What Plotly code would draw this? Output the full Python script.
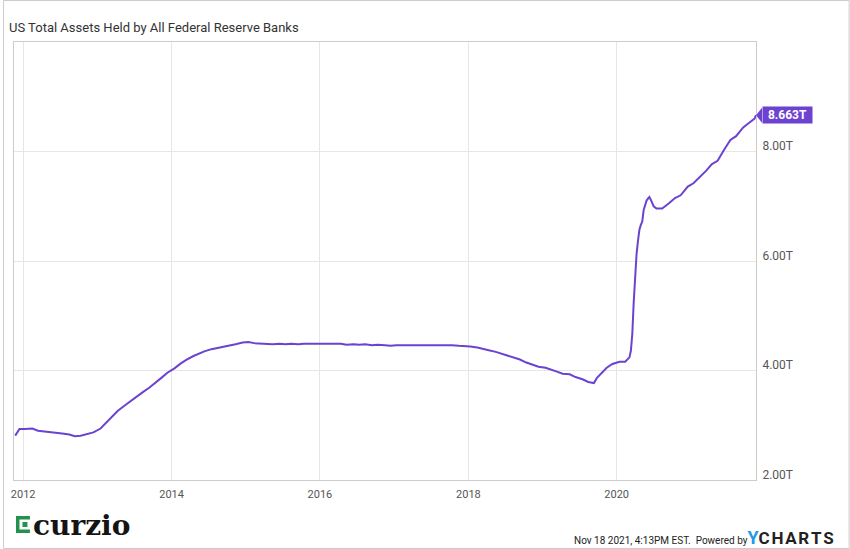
import plotly.graph_objects as go

# ---------------- data ----------------
dates = [
    "2011-11-23", "2011-12-14", "2012-01-11", "2012-02-15", "2012-03-14", "2012-04-11",
    "2012-05-16", "2012-06-13", "2012-07-11", "2012-08-15", "2012-09-12", "2012-10-10",
    "2012-11-14", "2012-12-12", "2013-01-16", "2013-02-13", "2013-03-13", "2013-04-10",
    "2013-05-15", "2013-06-12", "2013-07-17", "2013-08-14", "2013-09-11", "2013-10-16",
    "2013-11-13", "2013-12-11", "2014-01-15", "2014-02-12", "2014-03-12", "2014-04-16",
    "2014-05-14", "2014-06-11", "2014-07-16", "2014-08-13", "2014-09-17", "2014-10-15",
    "2014-11-12", "2014-12-17", "2015-01-14", "2015-02-11", "2015-03-11", "2015-04-15",
    "2015-05-13", "2015-06-17", "2015-07-15", "2015-08-12", "2015-09-16", "2015-10-14",
    "2015-11-11", "2015-12-16", "2016-01-13", "2016-02-10", "2016-03-16", "2016-04-13",
    "2016-05-11", "2016-06-15", "2016-07-13", "2016-08-10", "2016-09-14", "2016-10-12",
    "2016-11-16", "2016-12-14", "2017-01-11", "2017-02-15", "2017-03-15", "2017-04-12",
    "2017-05-17", "2017-06-14", "2017-07-12", "2017-08-16", "2017-09-13", "2017-10-11",
    "2017-11-15", "2017-12-13", "2018-01-10", "2018-02-14", "2018-03-14", "2018-04-11",
    "2018-05-16", "2018-06-13", "2018-07-11", "2018-08-15", "2018-09-12", "2018-10-10",
    "2018-11-14", "2018-12-12", "2019-01-16", "2019-02-13", "2019-03-13", "2019-04-10",
    "2019-05-15", "2019-06-12", "2019-07-17", "2019-08-14", "2019-09-11", "2019-09-25",
    "2019-10-16", "2019-11-13", "2019-12-11", "2020-01-15", "2020-02-12", "2020-03-04",
    "2020-03-11", "2020-03-18", "2020-03-25", "2020-04-01", "2020-04-08", "2020-04-15",
    "2020-04-22", "2020-04-29", "2020-05-06", "2020-05-13", "2020-05-20", "2020-05-27",
    "2020-06-03", "2020-06-10", "2020-06-17", "2020-06-24", "2020-07-01", "2020-07-15",
    "2020-08-12", "2020-09-16", "2020-10-14", "2020-11-11", "2020-12-16", "2021-01-13",
    "2021-02-10", "2021-03-17", "2021-04-14", "2021-05-12", "2021-06-16", "2021-07-14",
    "2021-08-11", "2021-09-15", "2021-10-13", "2021-11-10", "2021-11-17",
]
assets_trillions = [
    2.81, 2.93, 2.93, 2.94, 2.90, 2.89,
    2.87, 2.86, 2.85, 2.83, 2.80, 2.81,
    2.85, 2.87, 2.94, 3.05, 3.16, 3.26,
    3.36, 3.44, 3.54, 3.61, 3.68, 3.78,
    3.87, 3.96, 4.04, 4.12, 4.19, 4.26,
    4.31, 4.35, 4.39, 4.41, 4.43, 4.46,
    4.48, 4.51, 4.52, 4.50, 4.49, 4.49,
    4.48, 4.49, 4.48, 4.49, 4.48, 4.49,
    4.49, 4.48, 4.49, 4.49, 4.48, 4.49,
    4.47, 4.48, 4.47, 4.48, 4.46, 4.47,
    4.46, 4.45, 4.46, 4.46, 4.47, 4.47,
    4.47, 4.46, 4.46, 4.46, 4.46, 4.46,
    4.45, 4.45, 4.44, 4.42, 4.40, 4.37,
    4.34, 4.31, 4.27, 4.24, 4.20, 4.15,
    4.11, 4.07, 4.05, 4.02, 3.98, 3.94,
    3.93, 3.88, 3.84, 3.79, 3.77, 3.86,
    3.95, 4.05, 4.12, 4.16, 4.16, 4.24,
    4.36, 4.67, 5.25, 5.82, 6.13, 6.37,
    6.57, 6.66, 6.72, 6.93, 7.04, 7.10,
    7.14, 7.17, 7.12, 7.05, 7.00, 6.96,
    6.96, 7.06, 7.15, 7.20, 7.36, 7.42,
    7.52, 7.65, 7.77, 7.83, 8.05, 8.21,
    8.28, 8.44, 8.52, 8.60, 8.663,
]
x_tick_dates = ["2012-01-01", "2014-01-01", "2016-01-01", "2018-01-01", "2020-01-01"]
x_tick_labels = ["2012", "2014", "2016", "2018", "2020"]
y_tick_values = [2, 4, 6, 8]
y_tick_labels = ["2.00T", "4.00T", "6.00T", "8.00T"]
x_range = ["2011-11-17", "2021-11-17"]
y_range = [2, 10]
chart_title = "US Total Assets Held by All Federal Reserve Banks"
footer_text = "Nov 18 2021, 4:13PM EST.  Powered by"
logo_text = "curzio"

# ---------------- style ----------------
PURPLE = "#6c43d0"
GRID = "#e6e6e6"
AXIS = "#cccccc"
W, H = 850, 549
L, R, T, B = 11, 94, 42, 69
PW, PH = W - L - R, H - T - B


def px(x):
    return (x - L) / PW


def py(y):
    return (H - B - y) / PH


fig = go.Figure(
    go.Scatter(
        x=dates, y=assets_trillions, mode="lines",
        line=dict(color=PURPLE, width=2), hoverinfo="skip",
    )
)

fig.update_layout(
    width=W, height=H,
    margin=dict(l=L, r=R, t=T, b=B),
    paper_bgcolor="white", plot_bgcolor="white",
    showlegend=False,
    font=dict(family="Roboto", color="#333333"),
)
fig.update_xaxes(
    type="date", range=x_range,
    tickvals=x_tick_dates, ticktext=x_tick_labels,
    showgrid=True, gridcolor=GRID, gridwidth=1,
    showline=True, linecolor=AXIS, linewidth=1, mirror=True,
    ticks="", ticklabelstandoff=4,
    tickfont=dict(size=11, color="#555555"),
    zeroline=False, fixedrange=True,
)
fig.update_yaxes(
    side="right", range=y_range,
    tickvals=y_tick_values, ticktext=y_tick_labels,
    showgrid=True, gridcolor=GRID, gridwidth=1,
    showline=True, linecolor=AXIS, linewidth=1, mirror=True,
    ticks="", ticklabelposition="outside top", ticklabelstandoff=3,
    ticklabelshift=3,
    tickfont=dict(size=12, color="#555555"),
    zeroline=False, fixedrange=True,
)

annotations = []
shapes = []

# title
annotations.append(dict(
    xref="paper", yref="paper", x=px(4), y=py(27), xanchor="left", yanchor="middle",
    text=chart_title, showarrow=False, font=dict(size=13, color="#333333"),
))

# last value flag
last_x, last_y = dates[-1], assets_trillions[-1]
annotations.append(dict(
    xref="x", yref="y", x=last_x, y=last_y, xanchor="left", yanchor="middle",
    xshift=6, text=f"{last_y:.3f}T", showarrow=False,
    bgcolor=PURPLE, borderpad=2, width=45, height=12,
    font=dict(size=12, color="white", weight="bold"),
))
tip_y = (last_y - y_range[0]) / (y_range[1] - y_range[0])
dx, dy = 6 / PW, 7.5 / PH
shapes.append(dict(
    type="path", xref="paper", yref="paper",
    path=f"M 1,{tip_y} L {1 + dx},{tip_y + dy} L {1 + dx},{tip_y - dy} Z",
    fillcolor=PURPLE, line=dict(width=0),
))

# footer text
annotations.append(dict(
    xref="paper", yref="paper", x=px(836), y=py(537), xanchor="right", yanchor="middle",
    showarrow=False,
    text=(f"<span style='font-size:10px;color:#222'>{footer_text}</span>"
          "<span style='font-size:18px;color:#1f9ae8'><b>Y</b></span>"
          "<span style='font-size:17px;color:#222'><b>C\u200aH\u200aA\u200aR\u200aT\u200aS</b></span>"),
))

# curzio logo
GREEN = "#23924f"
shapes.append(dict(type="rect", xref="paper", yref="paper",
                   x0=px(13), x1=px(27), y0=py(533), y1=py(516),
                   fillcolor=GREEN, line=dict(width=0)))
shapes.append(dict(type="rect", xref="paper", yref="paper",
                   x0=px(16.5), x1=px(27.5), y0=py(529.5), y1=py(519.5),
                   fillcolor="white", line=dict(width=0)))
shapes.append(dict(type="rect", xref="paper", yref="paper",
                   x0=px(19.5), x1=px(24.5), y0=py(527), y1=py(522),
                   fillcolor=GREEN, line=dict(width=0)))
annotations.append(dict(
    xref="paper", yref="paper", x=px(28), y=py(525), xanchor="left", yanchor="middle",
    text=logo_text, showarrow=False,
    font=dict(family="DejaVu Serif", size=28, color="#141414", weight="bold"),
))

# outer border
shapes.append(dict(type="rect", xref="paper", yref="paper",
                   x0=px(0.5), x1=px(849.5), y0=py(548.5), y1=py(0.5),
                   line=dict(color="#cccccc", width=1), fillcolor="rgba(0,0,0,0)"))

fig.update_layout(annotations=annotations, shapes=shapes)
fig.write_html(
    "out.html",
    config={"displayModeBar": False},
    post_script="document.body.style.margin='0';document.body.style.overflow='hidden';",
)
